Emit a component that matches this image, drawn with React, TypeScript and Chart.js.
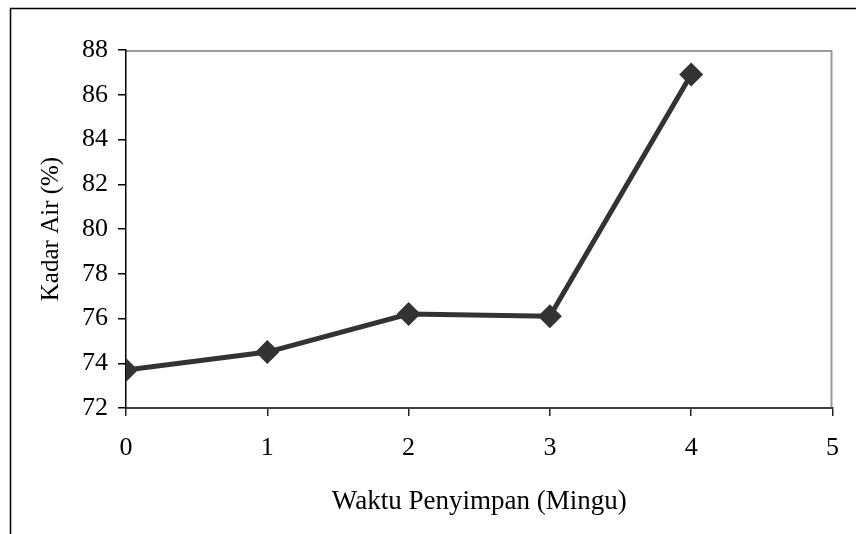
import React, { useEffect, useRef } from "react";
import { Chart, registerables } from "chart.js";

Chart.register(...registerables);

const weeks = [0, 1, 2, 3, 4];
const moisture = [73.7, 74.5, 76.2, 76.1, 86.9];
const yTitle = "Kadar Air (%)";
const xTitle = "Waktu Penyimpan (Mingu)";

const FONT = "'Liberation Serif', 'Times New Roman', serif";

const framePlugin = {
  id: "frame",
  beforeDraw(chart: any) {
    const { ctx, chartArea } = chart;
    ctx.save();
    ctx.fillStyle = "#ffffff";
    ctx.fillRect(0, 0, chart.width, chart.height);
    ctx.strokeStyle = "#000000";
    ctx.lineWidth = 1.5;
    ctx.beginPath();
    ctx.moveTo(10.5, chart.height + 2);
    ctx.lineTo(10.5, 8.5);
    ctx.lineTo(chart.width + 2, 8.5);
    ctx.stroke();
    ctx.strokeStyle = "#999999";
    ctx.lineWidth = 2;
    ctx.beginPath();
    ctx.moveTo(chartArea.left, chartArea.top + 1);
    ctx.lineTo(chartArea.right - 1, chartArea.top + 1);
    ctx.lineTo(chartArea.right - 1, chartArea.bottom);
    ctx.stroke();
    ctx.restore();
  },
};

export default function App() {
  const ref = useRef<HTMLCanvasElement | null>(null);
  useEffect(() => {
    if (!ref.current) return;
    const chart = new Chart(ref.current, {
      type: "line",
      data: {
        datasets: [
          {
            data: weeks.map((w, i) => ({ x: w, y: moisture[i] })),
            borderColor: "#333333",
            backgroundColor: "#333333",
            borderWidth: 5,
            pointStyle: "rectRot",
            pointRadius: 12,
            pointHoverRadius: 12,
            pointBorderWidth: 0,
            tension: 0,
          },
        ],
      },
      options: {
        animation: false,
        responsive: false,
        devicePixelRatio: 1,
        layout: { padding: { left: 0, top: 50, right: 20, bottom: 0 } },
        plugins: { legend: { display: false }, tooltip: { enabled: false } },
        scales: {
          x: {
            type: "linear",
            min: 0,
            max: 5,
            afterFit: (s: any) => {
              s.height = 126;
            },
            ticks: {
              stepSize: 1,
              color: "#000",
              padding: 17,
              font: { family: FONT, size: 26 },
            },
            grid: {
              drawOnChartArea: false,
              drawTicks: true,
              tickLength: 8,
              color: "#222",
              lineWidth: 1.5,
            },
            border: { color: "#404040", width: 2 },
            title: {
              display: true,
              text: xTitle,
              color: "#000",
              font: { family: FONT, size: 27 },
              padding: { top: 0, bottom: 16 },
            },
          },
          y: {
            min: 72,
            max: 88,
            afterFit: (s: any) => {
              s.width = 126;
            },
            ticks: {
              stepSize: 2,
              color: "#000",
              padding: 10,
              font: { family: FONT, size: 26 },
            },
            grid: {
              drawOnChartArea: false,
              drawTicks: true,
              tickLength: 8,
              color: "#000",
              lineWidth: 1.5,
            },
            border: { color: "#000", width: 1.5 },
            title: {
              display: true,
              text: yTitle,
              color: "#000",
              font: { family: FONT, size: 25 },
              padding: { top: 36, bottom: 0 },
            },
          },
        },
      },
      plugins: [framePlugin],
    });
    return () => chart.destroy();
  }, []);
  return (
    <div style={{ position: "fixed", left: 0, top: 0, width: 856, height: 534, background: "#fff" }}>
      <canvas ref={ref} width={856} height={534} style={{ display: "block" }} />
    </div>
  );
}
